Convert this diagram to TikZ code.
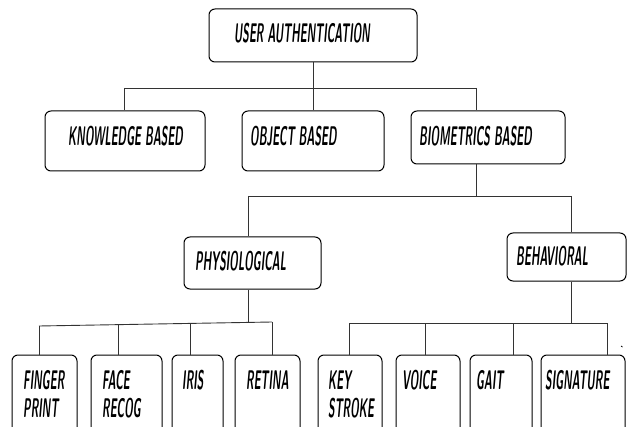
\documentclass[tikz,border=0pt]{standalone}
\usepackage{graphicx}
\newcommand{\hw}[1]{\scalebox{0.40}[1]{#1}}
\tikzset{
  box/.style={draw=black, line width=1pt, rounded corners=6pt, inner sep=0pt},
  lbl/.style={inner sep=0pt, anchor=west, align=left,
    font=\fontsize{27}{28}\selectfont\sffamily\bfseries\itshape},
  conn/.style={draw=black!80, line width=0.9pt},
}
\begin{document}
\begin{tikzpicture}[x=1pt,y=-1pt]
\useasboundingbox (0,0) rectangle (628,427);
\clip (0,0) rectangle (628,427);
% boxes
\node[box, minimum width=208pt, minimum height=53pt] (top) at (313,35.5) {};
\node[box, minimum width=160pt, minimum height=60pt] (know) at (125,141) {};
\node[box, minimum width=142pt, minimum height=60pt] (obj) at (313,141) {};
\node[box, minimum width=154pt, minimum height=53pt] (bio) at (488,137.5) {};
\node[box, minimum width=137pt, minimum height=52pt] (phys) at (252.5,263) {};
\node[box, minimum width=119pt, minimum height=48pt] (behav) at (566.5,257) {};
\node[box, minimum width=65pt, minimum height=85pt] (finger) at (44.5,397.5) {};
\node[box, minimum width=71pt, minimum height=85pt] (face) at (126.5,397.5) {};
\node[box, minimum width=51pt, minimum height=85pt] (iris) at (197.5,397.5) {};
\node[box, minimum width=65pt, minimum height=85pt] (retina) at (267.5,397.5) {};
\node[box, minimum width=64pt, minimum height=85pt] (key) at (350,397.5) {};
\node[box, minimum width=64pt, minimum height=85pt] (voice) at (428,397.5) {};
\node[box, minimum width=62pt, minimum height=85pt] (gait) at (501,397.5) {};
\node[box, minimum width=84pt, minimum height=85pt] (sig) at (583,397.5) {};
% labels
\node[lbl] (ltop) at (234,33) {\hw{USER AUTHENTICATION}};
\node[lbl] (lknow) at (68,136) {\hw{KNOWLEDGE BASED}};
\node[lbl] (lobj) at (250,136) {\hw{OBJECT BASED}};
\node[lbl] (lbio) at (419,136) {\hw{BIOMETRICS BASED}};
\node[lbl] (lphys) at (195,261) {\hw{PHYSIOLOGICAL}};
\node[lbl] (lbehav) at (516,256) {\hw{BEHAVIORAL}};
\node[lbl] (lfinger) at (23,394) {\hw{FINGER}\\\hw{PRINT}};
\node[lbl] (lface) at (102,394) {\hw{FACE}\\\hw{RECOG}};
\node[lbl] (liris) at (182,380) {\hw{IRIS}};
\node[lbl] (lretina) at (246,380) {\hw{RETINA}};
\node[lbl] (lkey) at (328,394) {\hw{KEY}\\\hw{STROKE}};
\node[lbl] (lvoice) at (402,380) {\hw{VOICE}};
\node[lbl] (lgait) at (476,380) {\hw{GAIT}};
\node[lbl] (lsig) at (545,380) {\hw{SIGNATURE}};
% junction coordinates
\coordinate (j1) at (313,88);
\coordinate (kb) at (124,88);
\coordinate (bb) at (476,88);
\coordinate (j2) at (476,196);
\coordinate (pb) at (248,196);
\coordinate (hb) at (571,196);
\coordinate (j3) at (248,322.4);
\coordinate (pl) at (39,326);
\coordinate (pr) at (272,322);
\coordinate (f1) at (118,324.6);
\coordinate (f2) at (190,323.4);
\coordinate (j4) at (571,323);
\coordinate (bl) at (349,323);
\coordinate (br) at (607,323);
\coordinate (v1) at (425,323);
\coordinate (v2) at (513,323);
% connectors
\draw[conn] (top) -- (j1);
\draw[conn] (kb) -- (bb);
\draw[conn] (kb) -- (kb |- know.north);
\draw[conn] (j1) -- (j1 |- obj.north);
\draw[conn] (bb) -- (bb |- bio.north);
\draw[conn] (bb |- bio.south) -- (j2);
\draw[conn] (pb) -- (hb);
\draw[conn] (pb) -- (pb |- phys.north);
\draw[conn] (hb) -- (hb |- behav.north);
\draw[conn] (pb |- phys.south) -- (j3);
\draw[conn] (pl) -- (pr);
\draw[conn] (pl) -- (pl |- finger.north);
\draw[conn] (f1) -- (f1 |- face.north);
\draw[conn] (f2) -- (f2 |- iris.north);
\draw[conn] (pr) -- (pr |- retina.north);
\draw[conn] (hb |- behav.south) -- (j4);
\draw[conn] (bl) -- (br);
\draw[conn] (bl) -- (bl |- key.north);
\draw[conn] (v1) -- (v1 |- voice.north);
\draw[conn] (v2) -- (v2 |- gait.north);
\draw[conn] (br) -- (br |- sig.north);
\coordinate (tk) at (621,346);
\draw[line width=0.8pt] (tk) -- ++(1.5,1);
\end{tikzpicture}
\end{document}
